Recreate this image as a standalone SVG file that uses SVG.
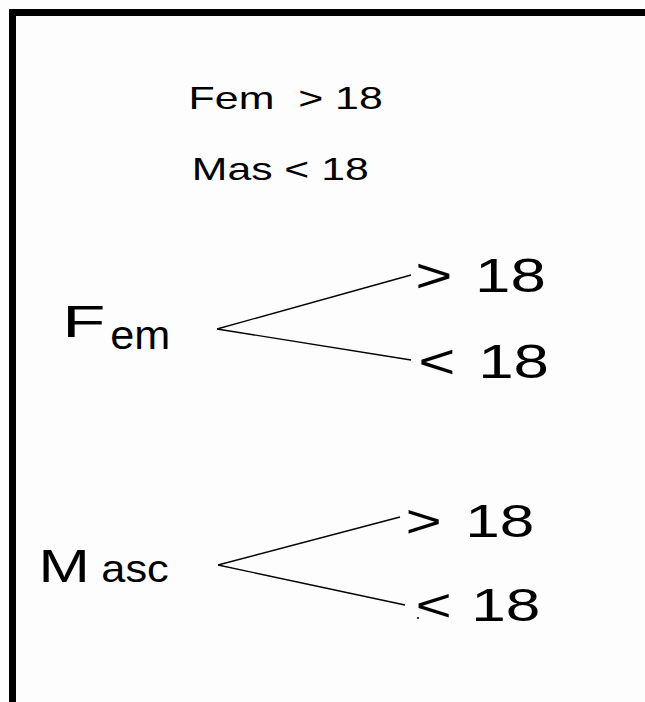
<svg xmlns="http://www.w3.org/2000/svg" width="645" height="702" viewBox="0 0 645 702">
<style>
text{font-family:"Liberation Sans",Arial,sans-serif;fill:#000}
.ln{stroke:#000;stroke-width:1.4;fill:none}
</style>
<rect x="0" y="0" width="645" height="702" fill="#fdfdfd"/>
<g id="frame">
<rect x="9" y="9" width="636" height="7" fill="#000"/>
<rect x="9" y="9" width="7" height="693" fill="#000"/>
</g>
<g id="legend">
<text transform="matrix(1.34 0 0 1 188.6 109)" font-size="32" xml:space="preserve">Fem  &gt; 18</text>
<text transform="matrix(1.335 0 0 1 191.8 180)" font-size="32">Mas &lt; 18</text>
</g>
<g id="fem">
<text transform="matrix(1.57 0 0 1 62.3 337)" font-size="45">F</text>
<text transform="matrix(1.08 0 0 1 110.3 349)" font-size="40">em</text>
</g>
<g id="fem-gt">
<text transform="matrix(1.3 0 0 1 0 292)" font-size="49"><tspan x="319.5">&gt;</tspan><tspan x="365.4">18</tspan></text>
</g>
<g id="fem-lt">
<text transform="matrix(1.3 0 0 1 0 378)" font-size="49"><tspan x="321.8">&lt;</tspan><tspan x="367.8">18</tspan></text>
</g>
<g id="masc">
<text transform="matrix(1.34 0 0 1 38.4 582)" font-size="46">M</text>
<text transform="matrix(1.14 0 0 1 101.3 582)" font-size="38">asc</text>
</g>
<g id="masc-gt">
<text transform="matrix(1.35 0 0 1 0 537)" font-size="46"><tspan x="300.4">&gt;</tspan><tspan x="344.6">18</tspan></text>
</g>
<g id="masc-lt">
<text transform="matrix(1.35 0 0 1 0 621)" font-size="46"><tspan x="307.8">&lt;</tspan><tspan x="349">18</tspan></text>
</g>
<g id="connectors">
<line class="ln" x1="217" y1="329" x2="411" y2="275"/>
<line class="ln" x1="217" y1="329" x2="411" y2="360"/>
<line class="ln" x1="218" y1="565" x2="400" y2="517"/>
<line class="ln" x1="218" y1="565" x2="405" y2="605"/>
<circle cx="418" cy="618" r="1" fill="#000"/>
</g>
</svg>
